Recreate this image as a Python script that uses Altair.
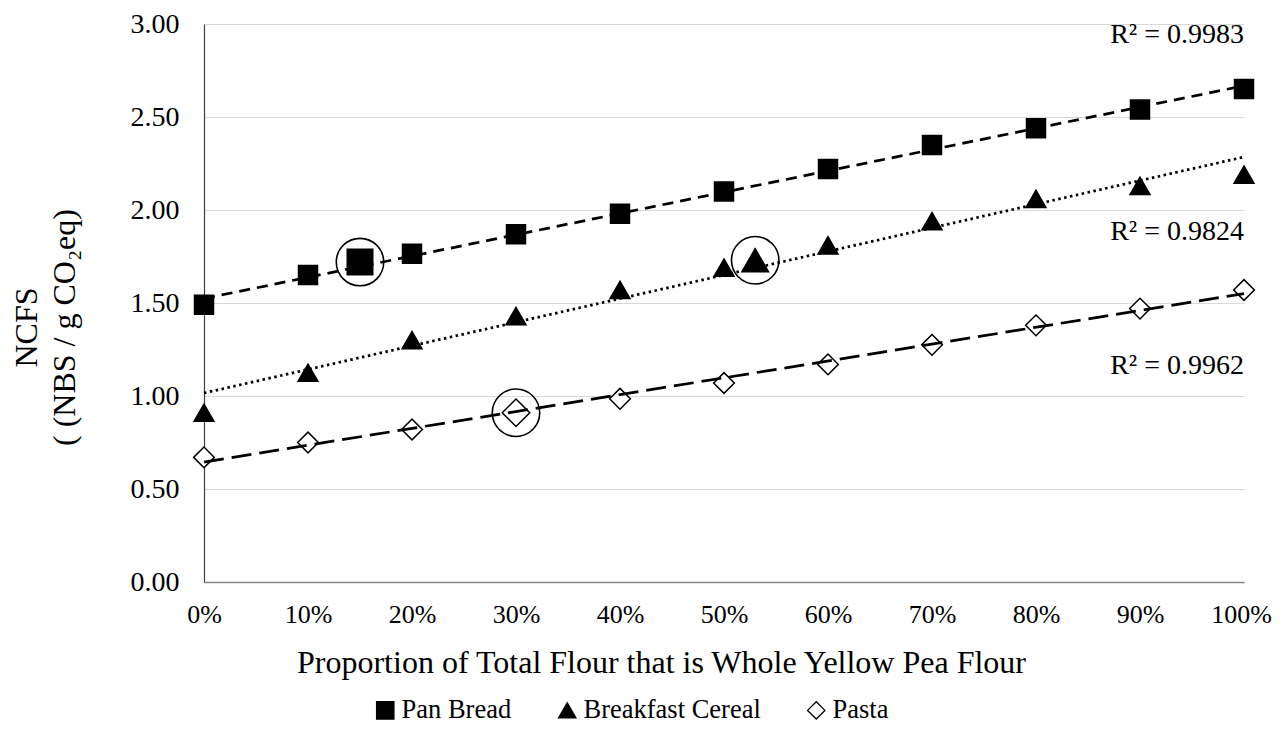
import altair as alt
import pandas as pd

# ---- data ----
pct = [0, 10, 20, 30, 40, 50, 60, 70, 80, 90, 100]
pan_bread = [1.49, 1.65, 1.765, 1.87, 1.98, 2.10, 2.22, 2.35, 2.44, 2.54, 2.65]
breakfast_cereal = [0.91, 1.125, 1.30, 1.43, 1.57, 1.69, 1.81, 1.94, 2.06, 2.13, 2.19]
pasta = [0.67, 0.75, 0.82, 0.915, 0.985, 1.07, 1.17, 1.275, 1.38, 1.47, 1.57]

series_names = ["Pan Bread", "Breakfast Cereal", "Pasta"]

# highlighted (circled) points
hl_series = ["Pan Bread", "Breakfast Cereal", "Pasta"]
hl_pct = [15, 53, 30]
hl_value = [1.72, 1.73, 0.91]

# R² annotations
r2_text = ["R² = 0.9983", "R² = 0.9824", "R² = 0.9962"]
r2_y = [2.939, 1.884, 1.163]
r2_dx = [27, 19, 21]

FONT = "Liberation Serif"

rows = []
for name, vals in zip(series_names, [pan_bread, breakfast_cereal, pasta]):
    for p, v in zip(pct, vals):
        rows.append({"pct": p, "value": v, "Series": name})
df = pd.DataFrame(rows)
hl = pd.DataFrame({"pct": hl_pct, "value": hl_value, "Series": hl_series})
r2 = pd.DataFrame({"pct": [100] * 3, "value": r2_y, "label": r2_text, "dx": r2_dx})

x_enc = alt.X("pct:Q", scale=alt.Scale(domain=[0, 100], nice=False),
              axis=alt.Axis(values=pct, labelExpr="datum.value + '%'",
                            title="Proportion of Total Flour that is Whole Yellow Pea Flour",
                            grid=False, ticks=False, domainColor="#868686", domainWidth=1.5,
                            labelFlush=False, labelPadding=19, labelFontSize=26,
                            labelOffset={"condition": {"test": "datum.value == 100", "value": -3},
                                         "value": 0},
                            labelColor="black", labelFont=FONT,
                            titleFontSize=32, titleFontWeight="normal", titleColor="black",
                            titleFont=FONT,
                            titleX=457, titleY=80, titleBaseline="middle", titleAlign="center"))
y_enc = alt.Y("value:Q", scale=alt.Scale(domain=[0, 3], nice=False),
              axis=alt.Axis(values=[0, 0.5, 1, 1.5, 2, 2.5, 3], format=".2f",
                            title=["NCFS", "( (NBS / g CO₂eq)"],
                            grid=True, gridColor="#d9d9d9", gridWidth=1.2, ticks=False,
                            domainColor="#404040", domainWidth=1.2,
                            labelPadding=25, labelFontSize=28, labelColor="black",
                            labelFont=FONT,
                            titleFontSize=32, titleFontWeight="normal", titleColor="black",
                            titleFont=FONT,
                            titleX=-178, titleY=303, titleBaseline="middle",
                            titleAlign="center", titleLineHeight=38))

shape_scale = alt.Scale(domain=series_names, range=["square", "triangle-up", "diamond"])
fill_scale = alt.Scale(domain=series_names, range=["black", "black", "white"])
stroke_scale = alt.Scale(domain=series_names, range=["black", "black", "black"])
size_small = alt.Scale(domain=series_names, range=[361, 430, 340])
size_big = alt.Scale(domain=series_names, range=[650, 760, 680])

legend = alt.Legend(title=None, orient="none", direction="horizontal",
                    legendX=168, legendY=673, labelFontSize=26.5, labelColor="black",
                    labelFont=FONT, labelLimit=0,
                    symbolSize=300, symbolStrokeColor="black", symbolStrokeWidth=1.3,
                    columnPadding=42, labelOffset=3, symbolOpacity=1)


def point_layer(data, size_scale):
    return alt.Chart(data).mark_point(strokeWidth=1.5, opacity=1).encode(
        x=x_enc if data is df else "pct:Q",
        y=y_enc if data is df else "value:Q",
        shape=alt.Shape("Series:N", scale=shape_scale, legend=legend),
        fill=alt.Fill("Series:N", scale=fill_scale, legend=legend),
        stroke=alt.Stroke("Series:N", scale=stroke_scale, legend=legend),
        size=alt.Size("Series:N", scale=size_scale, legend=None),
    )


points = point_layer(df, size_small)
hl_points = point_layer(hl, size_big)

circles = alt.Chart(hl).mark_point(shape="circle", size=2250, filled=False,
                                   color="black", strokeWidth=1.6, opacity=1).encode(
    x="pct:Q", y="value:Q")

dashes = {"Pan Bread": [11, 7], "Breakfast Cereal": [2.5, 3.5], "Pasta": [20, 8]}
lines = []
for name in series_names:
    lines.append(
        alt.Chart(df).transform_filter(alt.datum.Series == name)
        .transform_regression("pct", "value")
        .mark_line(color="black", strokeWidth=2.75, strokeDash=dashes[name])
        .encode(x="pct:Q", y="value:Q")
    )

labels = alt.Chart(r2).mark_text(align="right", baseline="middle", font=FONT,
                                 fontSize=28, color="black").encode(
    x="pct:Q", y="value:Q", text="label:N", xOffset="dx:Q")

chart = alt.layer(points, hl_points, circles, *lines, labels).resolve_scale(
    size="independent"
).properties(
    width=1040, height=558,
    autosize=alt.AutoSizeParams(type="none"),
    padding={"left": 196, "top": 16, "right": 29, "bottom": 144},
).configure(font=FONT).configure_view(stroke=None).configure_axis(
    labelFont=FONT, titleFont=FONT).configure_legend(labelFont=FONT)

chart.save("out.html", embed_options={"renderer": "svg", "actions": False})
